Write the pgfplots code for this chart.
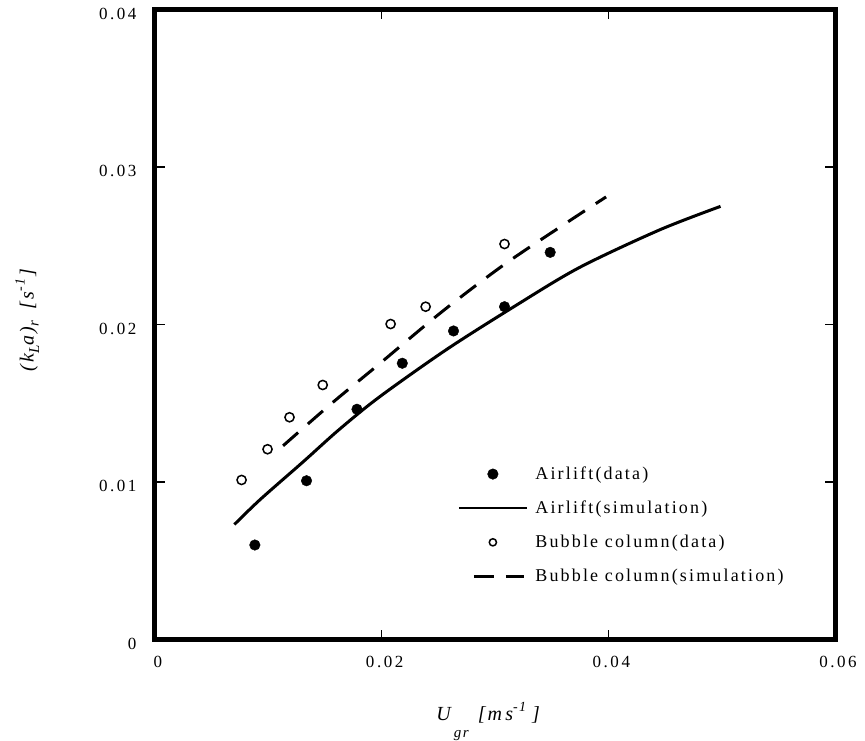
\documentclass[border=0pt]{standalone}
\usepackage{pgfplots}
\pgfplotsset{compat=1.18}
\usepackage{fontspec}
\setmainfont{Liberation Serif}
\newfontfamily\tickfont[LetterSpace=15]{Liberation Serif}
\newfontfamily\legfont[LetterSpace=12]{Liberation Serif}
\newfontfamily\labfont[LetterSpace=10]{Liberation Serif}

\pgfplotsset{
  legdot/.style={legend image code/.code={\path (-34bp,0bp) (34bp,0bp);
    \draw[black, mark=*, mark size=5.3bp, only marks, mark repeat=2, mark phase=2] plot coordinates {(-34bp,0bp) (0bp,0bp) (34bp,0bp)};}},
  legline/.style={legend image code/.code={\draw[black, line width=2bp] (-34bp,0bp) -- (34bp,0bp);}},
  legcirc/.style={legend image code/.code={\path (-34bp,0bp) (34bp,0bp);
    \draw[black, mark=o, mark size=3.6bp, mark options={line width=1.5bp}, only marks, mark repeat=2, mark phase=2] plot coordinates {(-34bp,0bp) (0bp,0bp) (34bp,0bp)};}},
  legdash/.style={legend image code/.code={\path (-34bp,0bp) (34bp,0bp);
    \draw[black, line width=2.5bp, dash pattern=on 20bp off 12bp] (-19bp,0bp) -- (31bp,0bp);}},
}

\pgfplotstableread{
x y
0.00881 0.00600
0.01337 0.01008
0.01782 0.01462
0.02182 0.01754
0.02634 0.01959
0.03084 0.02113
0.03487 0.02458
}\airliftdata

\pgfplotstableread{
x y
0.0070 0.0073
0.0093 0.0089
0.0131 0.0113
0.0162 0.0133
0.0198 0.0154
0.0257 0.0184
0.0316 0.0211
0.0374 0.0236
0.0445 0.0260
0.0499 0.0275
}\airliftsim

\pgfplotstableread{
x y
0.00764 0.01013
0.00993 0.01208
0.01187 0.01411
0.01480 0.01616
0.02079 0.02003
0.02388 0.02113
0.03084 0.02511
}\bubbledata

\pgfplotstableread{
x y
0.0113 0.0123
0.0156 0.0150
0.0198 0.0175
0.0253 0.0208
0.0308 0.0238
0.0364 0.0265
0.0398 0.0281
}\bubblesim

\begin{document}
\begin{tikzpicture}
\begin{axis}[
  at={(0,0)}, anchor=south west,
  scale only axis, width=680bp, height=630bp,
  xmin=0, xmax=0.06, ymin=0, ymax=0.04,
  axis line style={line width=5bp, line cap=rect},
  tick style={line width=1.5bp, black},
  major tick length=10bp, tick align=inside,
  xtick={0,0.02,0.04,0.06}, xticklabels={0,0.02,0.04,0.06},
  ytick={0,0.01,0.02,0.03,0.04}, yticklabels={0,0.01,0.02,0.03,0.04},
  scaled ticks=false,
  ticklabel style={font=\tickfont\fontsize{17bp}{19bp}\selectfont},
  xticklabel style={yshift=-13bp, xshift=3bp},
  yticklabel style={xshift=-15bp, yshift=-4bp},
  xlabel={\labfont\itshape\fontsize{20bp}{22bp}\selectfont U\hspace{3bp}\raisebox{-17bp}{\fontsize{15bp}{15bp}\selectfont gr}\hspace{9bp}[m\,s\raisebox{9bp}{\fontsize{14bp}{14bp}\selectfont -1}\hspace{6bp}]},
  xlabel style={at={(axis description cs:0.49,0)}, anchor=north, inner sep=0pt, yshift=-63bp},
  ylabel={\labfont\itshape\fontsize{20bp}{22bp}\selectfont (k\raisebox{-5.5bp}{\fontsize{15bp}{15bp}\selectfont L}a)\raisebox{-5bp}{\fontsize{15bp}{15bp}\selectfont r}\hspace{12bp}[s\raisebox{9bp}{\fontsize{14bp}{14bp}\selectfont -1}\hspace{2bp}]},
  ylabel style={at={(axis description cs:-0.188,0.507)}, anchor=center, inner sep=0pt},
  legend style={at={(axis cs:0.0264,0.01122)}, anchor=north west, draw=none, fill=none,
    font=\legfont\fontsize{18bp}{20bp}\selectfont, row sep=16bp,
    nodes={inner sep=2bp},
    /tikz/every odd column/.append style={column sep=5bp}},
  legend cell align=left,
]
\addplot[only marks, mark=*, mark size=5.3bp, black, legdot]
  table {\airliftdata};
\addlegendentry{Airlift(data)}
\addplot[black, line width=3bp, smooth, legline]
  table {\airliftsim};
\addlegendentry{Airlift(simulation)}
\addplot[only marks, mark=o, mark size=4.6bp, black, mark options={line width=1.5bp}, legcirc]
  table {\bubbledata};
\addlegendentry{Bubble column(data)}
\addplot[black, line width=3bp, smooth, dash pattern=on 20bp off 13bp, legdash]
  table {\bubblesim};
\addlegendentry{Bubble column(simulation)}
\end{axis}
\pgfresetboundingbox
\path[use as bounding box] ([shift={(-155bp,-100.5bp)}]current axis.south west) rectangle ([shift={(30bp,9.5bp)}]current axis.north east);
\end{tikzpicture}
\end{document}
